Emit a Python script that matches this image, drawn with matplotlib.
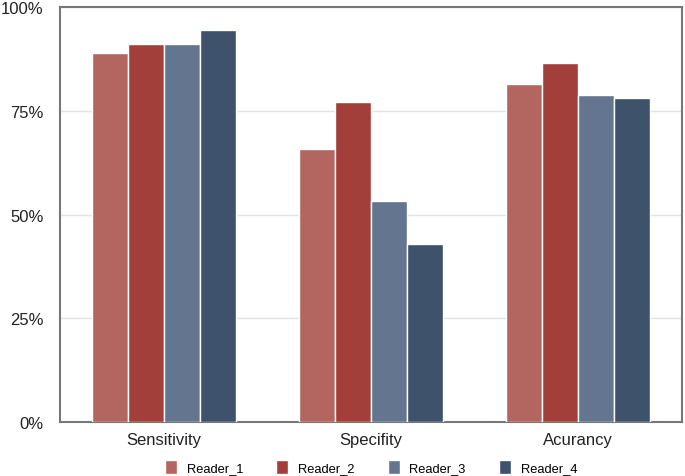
import numpy as np
import matplotlib
matplotlib.use("Agg")
import matplotlib.pyplot as plt
from matplotlib.ticker import PercentFormatter

categories = ["Sensitivity", "Specifity", "Acurancy"]
readers = ["Reader_1", "Reader_2", "Reader_3", "Reader_4"]
reader_1 = [88.8, 65.8, 81.4]
reader_2 = [91.0, 77.2, 86.6]
reader_3 = [91.0, 53.3, 78.9]
reader_4 = [94.5, 43.0, 78.0]
colors = ["#b3655f", "#a33f3a", "#64768f", "#3e526b"]

plt.rcParams["font.family"] = ["Liberation Sans", "DejaVu Sans"]

fig = plt.figure(figsize=(6.85, 4.77), dpi=100)
ax = fig.add_axes([60 / 685, 1 - 423 / 477, 622 / 685, 415 / 477])

x = np.arange(len(categories))
w = 0.1735
for i, vals in enumerate([reader_1, reader_2, reader_3, reader_4]):
    ax.bar(x + (i - 1.5) * w, vals, width=w, color=colors[i],
           edgecolor="white", linewidth=1.0, label=readers[i], zorder=3)

ax.set_xlim(-0.5, 2.5)
ax.set_ylim(0, 100)
ax.set_yticks([0, 25, 50, 75, 100])
ax.yaxis.set_major_formatter(PercentFormatter(decimals=0))
ax.set_xticks(x)
ax.set_xticklabels(categories)
ax.tick_params(axis="both", length=0, labelsize=12, colors="#222222")
ax.tick_params(axis="y", pad=12)
ax.tick_params(axis="x", pad=7)
ax.grid(axis="y", color="#e3e3e3", linewidth=1, zorder=0)
for s in ax.spines.values():
    s.set_color("#777777")
    s.set_linewidth(1.5)

ax.legend(loc="center", bbox_to_anchor=(0.5, -45 / 415), ncol=4,
          frameon=False, fontsize=9.3, handlelength=0.95, handleheight=1.25,
          columnspacing=2.55, handletextpad=0.75, borderaxespad=0)

fig.savefig("out.png", dpi=100)
